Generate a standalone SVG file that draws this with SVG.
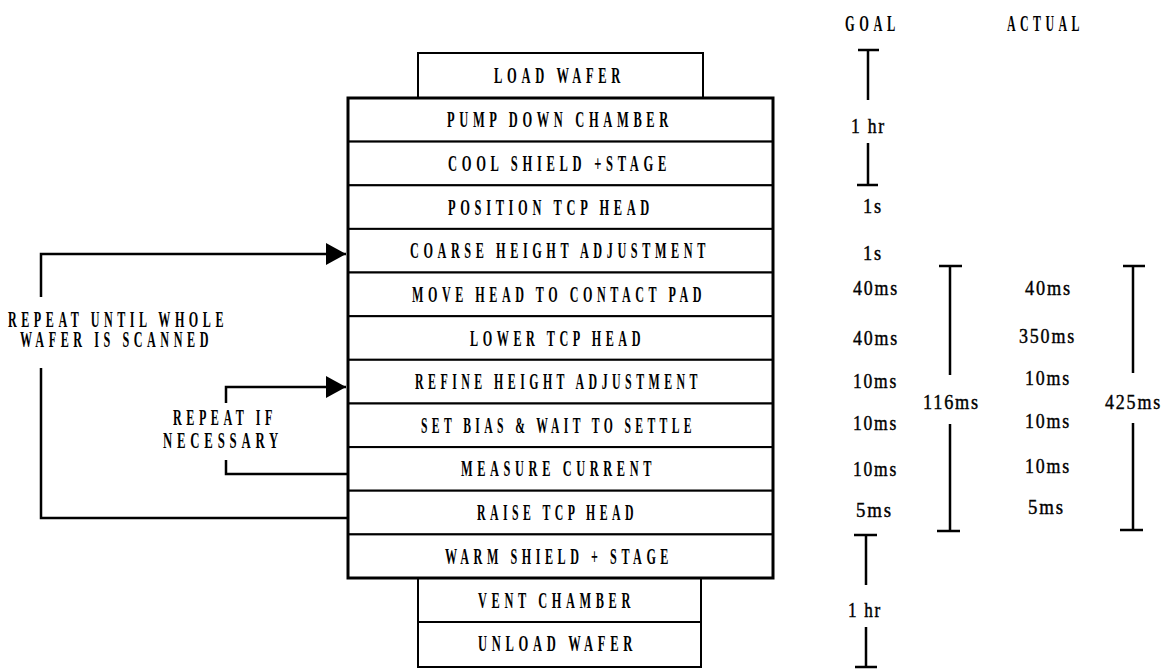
<svg xmlns="http://www.w3.org/2000/svg" width="1167" height="669" viewBox="0 0 1167 669">
<style>
  .box{fill:#fff;stroke:#000;stroke-width:2}
  .frame{fill:none;stroke:#000;stroke-width:3}
  .t{font-family:"Liberation Serif",serif;font-size:24px;font-weight:bold;letter-spacing:9px;fill:#000}
  .n{font-family:"Liberation Serif",serif;font-size:20px;font-weight:normal;letter-spacing:2px;fill:#000;stroke:#000;stroke-width:0.4}
  .ln{fill:none;stroke:#000;stroke-width:2.5}
  .br{fill:none;stroke:#000;stroke-width:2.5}
</style>
<defs>
  <marker id="ah" markerUnits="userSpaceOnUse" markerWidth="21" markerHeight="23" refX="20" refY="11" orient="auto">
    <path d="M0,0 L20,11 L0,22 Z" fill="#000"/>
  </marker>
</defs>
<rect width="1167" height="669" fill="#fff"/>

<g id="load-wafer"><rect class="box" x="418" y="53" width="285" height="45"/><text class="t" x="494" y="82.5" textLength="131" lengthAdjust="spacingAndGlyphs">LOAD WAFER</text></g>
<g id="pump-down"><rect class="box" x="348" y="98" width="425" height="43.6"/><text class="t" x="447" y="127" textLength="226" lengthAdjust="spacingAndGlyphs">PUMP DOWN CHAMBER</text></g>
<g id="cool-shield"><rect class="box" x="348" y="141.6" width="425" height="43.7"/><text class="t" x="448" y="171" textLength="223" lengthAdjust="spacingAndGlyphs">COOL SHIELD +STAGE</text></g>
<g id="position-head"><rect class="box" x="348" y="185.3" width="425" height="43.6"/><text class="t" x="448" y="214.6" textLength="206" lengthAdjust="spacingAndGlyphs">POSITION TCP HEAD</text></g>
<g id="coarse-height"><rect class="box" x="348" y="228.9" width="425" height="43.6"/><text class="t" x="410" y="258.2" textLength="300" lengthAdjust="spacingAndGlyphs">COARSE HEIGHT ADJUSTMENT</text></g>
<g id="move-head"><rect class="box" x="348" y="272.5" width="425" height="43.7"/><text class="t" x="412" y="301.9" textLength="294" lengthAdjust="spacingAndGlyphs">MOVE HEAD TO CONTACT PAD</text></g>
<g id="lower-head"><rect class="box" x="348" y="316.2" width="425" height="43.6"/><text class="t" x="470" y="345.5" textLength="175" lengthAdjust="spacingAndGlyphs">LOWER TCP HEAD</text></g>
<g id="refine-height"><rect class="box" x="348" y="359.8" width="425" height="43.7"/><text class="t" x="415" y="389.2" textLength="287" lengthAdjust="spacingAndGlyphs">REFINE HEIGHT ADJUSTMENT</text></g>
<g id="set-bias"><rect class="box" x="348" y="403.5" width="425" height="43.6"/><text class="t" x="421" y="432.8" textLength="275" lengthAdjust="spacingAndGlyphs">SET BIAS &amp; WAIT TO SETTLE</text></g>
<g id="measure-current"><rect class="box" x="348" y="447.1" width="425" height="43.6"/><text class="t" x="461" y="476.4" textLength="195" lengthAdjust="spacingAndGlyphs">MEASURE CURRENT</text></g>
<g id="raise-head"><rect class="box" x="348" y="490.7" width="425" height="43.7"/><text class="t" x="477" y="520" textLength="161" lengthAdjust="spacingAndGlyphs">RAISE TCP HEAD</text></g>
<g id="warm-shield"><rect class="box" x="348" y="534.4" width="425" height="43.6"/><text class="t" x="445" y="563.7" textLength="228" lengthAdjust="spacingAndGlyphs">WARM SHIELD + STAGE</text></g>
<g id="vent-chamber"><rect class="box" x="418" y="578" width="283" height="44"/><text class="t" x="478" y="607.5" textLength="157" lengthAdjust="spacingAndGlyphs">VENT CHAMBER</text></g>
<g id="unload-wafer"><rect class="box" x="418" y="622" width="283" height="45"/><text class="t" x="478" y="651" textLength="159" lengthAdjust="spacingAndGlyphs">UNLOAD WAFER</text></g>
<g id="stack-frame"><rect class="frame" x="348" y="98" width="425" height="480"/></g>

<g id="connectors">
  <path class="ln" d="M348,518 H41 V368"/>
  <path class="ln" d="M41,297 V254 H346" marker-end="url(#ah)"/>
  <path class="ln" d="M348,474 H226 V460"/>
  <path class="ln" d="M226,403 V387 H346" marker-end="url(#ah)"/>
</g>

<g id="loop-labels">
  <text class="t" x="8" y="327" textLength="220" lengthAdjust="spacingAndGlyphs">REPEAT UNTIL WHOLE</text>
  <text class="t" x="20" y="347" textLength="193" lengthAdjust="spacingAndGlyphs">WAFER IS SCANNED</text>
  <text class="t" x="173" y="425" textLength="104" lengthAdjust="spacingAndGlyphs">REPEAT IF</text>
  <text class="t" x="163" y="448" textLength="120" lengthAdjust="spacingAndGlyphs">NECESSARY</text>
</g>

<g id="headers">
  <text class="t" x="845" y="31" textLength="55" lengthAdjust="spacingAndGlyphs">GOAL</text>
  <text class="t" x="1007" y="31" textLength="77" lengthAdjust="spacingAndGlyphs">ACTUAL</text>
</g>

<g id="brackets">
  <path class="br" d="M858,50 H879 M868,50 V100 M868,143 V185 M857,185 H878"/>
  <path class="br" d="M939,266 H962 M950,266 V375 M950,424 V531 M937,531 H960"/>
  <path class="br" d="M1123,266 H1145 M1133,266 V373 M1133,423 V530 M1120,530 H1143"/>
  <path class="br" d="M854,535 H877 M866,535 V585 M866,627 V667 M855,667 H877"/>
</g>

<g id="goal-times">
  <text class="n" x="851" y="133" textLength="35" lengthAdjust="spacingAndGlyphs">1 hr</text>
  <text class="n" x="863" y="213" textLength="20" lengthAdjust="spacingAndGlyphs">1s</text>
  <text class="n" x="863" y="260" textLength="20" lengthAdjust="spacingAndGlyphs">1s</text>
  <text class="n" x="853" y="295" textLength="46" lengthAdjust="spacingAndGlyphs">40ms</text>
  <text class="n" x="853" y="345" textLength="46" lengthAdjust="spacingAndGlyphs">40ms</text>
  <text class="n" x="853" y="388" textLength="45" lengthAdjust="spacingAndGlyphs">10ms</text>
  <text class="n" x="853" y="430" textLength="45" lengthAdjust="spacingAndGlyphs">10ms</text>
  <text class="n" x="853" y="476" textLength="45" lengthAdjust="spacingAndGlyphs">10ms</text>
  <text class="n" x="856" y="517" textLength="37" lengthAdjust="spacingAndGlyphs">5ms</text>
  <text class="n" x="923" y="409" textLength="57" lengthAdjust="spacingAndGlyphs">116ms</text>
  <text class="n" x="848" y="617" textLength="34" lengthAdjust="spacingAndGlyphs">1 hr</text>
</g>

<g id="actual-times">
  <text class="n" x="1025" y="295" textLength="47" lengthAdjust="spacingAndGlyphs">40ms</text>
  <text class="n" x="1019" y="343" textLength="57" lengthAdjust="spacingAndGlyphs">350ms</text>
  <text class="n" x="1025" y="385" textLength="46" lengthAdjust="spacingAndGlyphs">10ms</text>
  <text class="n" x="1025" y="428" textLength="46" lengthAdjust="spacingAndGlyphs">10ms</text>
  <text class="n" x="1025" y="473" textLength="46" lengthAdjust="spacingAndGlyphs">10ms</text>
  <text class="n" x="1028" y="514" textLength="37" lengthAdjust="spacingAndGlyphs">5ms</text>
  <text class="n" x="1105" y="409" textLength="57" lengthAdjust="spacingAndGlyphs">425ms</text>
</g>
</svg>
